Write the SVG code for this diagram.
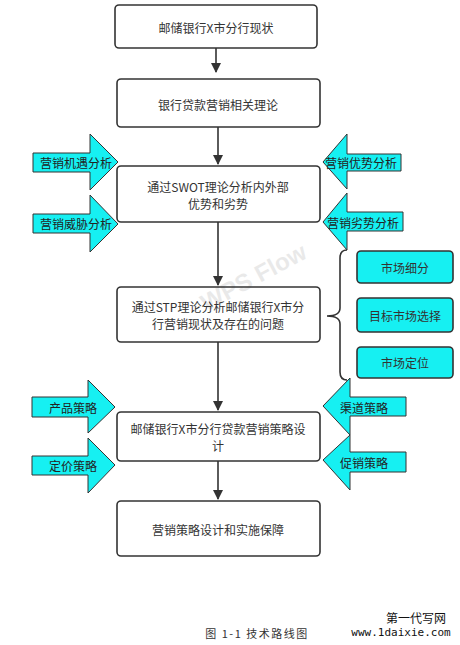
<svg xmlns="http://www.w3.org/2000/svg" width="460" height="645" viewBox="0 0 460 645">
<defs>
<style>
.box{fill:#fff;stroke:#333;stroke-width:1.6}
.cbox{fill:#16F0F2;stroke:#333;stroke-width:1.6}
.arr{fill:#16F0F2;stroke:#333;stroke-width:1}
.t{font-family:"Noto Sans CJK SC","Liberation Sans",sans-serif;font-size:12px;fill:#333;text-anchor:middle;dominant-baseline:central}
.ta{font-family:"Noto Sans CJK SC","Liberation Sans",sans-serif;font-size:12px;fill:#222;text-anchor:middle;dominant-baseline:central}
.line{stroke:#333;stroke-width:1.6;fill:none}
</style>
<marker id="ah" markerWidth="10" markerHeight="12" refX="9" refY="5" orient="auto" markerUnits="userSpaceOnUse">
<path d="M0,0 L10,5 L0,10 Z" fill="#333"/>
</marker>
</defs>
<rect width="460" height="645" fill="#fff"/>
<g id="connectors">
<line class="line" x1="216" y1="48" x2="216" y2="72" marker-end="url(#ah)"/>
<line class="line" x1="218" y1="127" x2="218" y2="164" marker-end="url(#ah)"/>
<line class="line" x1="218" y1="222" x2="218" y2="285" marker-end="url(#ah)"/>
<line class="line" x1="218" y1="342" x2="218" y2="410" marker-end="url(#ah)"/>
<line class="line" x1="218" y1="461" x2="218" y2="499" marker-end="url(#ah)"/>
<path class="line" d="M347,250 Q340,250 340,258 L340,308 Q340,316 327,316 Q340,316 340,324 L340,372 Q340,380 347,380"/>
</g>
<g id="n1"><rect class="box" x="115" y="5" width="202" height="43" rx="4"/><text class="t" x="216" y="27">邮储银行X市分行现状</text></g>
<g id="n2"><rect class="box" x="117" y="79" width="203" height="48" rx="4"/><text class="t" x="218" y="104">银行贷款营销相关理论</text></g>
<g id="n3"><rect class="box" x="117" y="166" width="203" height="56" rx="4"/><text class="t" x="218" y="186.5">通过SWOT理论分析内外部</text><text class="t" x="218" y="203.5">优势和劣势</text></g>
<g id="n4"><rect class="box" x="117" y="287" width="203" height="55" rx="4"/><text class="t" x="218" y="306.5">通过STP理论分析邮储银行X市分</text><text class="t" x="218" y="323.5">行营销现状及存在的问题</text></g>
<g id="n5"><rect class="box" x="117" y="412" width="203" height="49" rx="4"/><text class="t" x="218" y="428.5">邮储银行X市分行贷款营销策略设</text><text class="t" x="218" y="445.5">计</text></g>
<g id="n6"><rect class="box" x="117" y="501" width="203" height="55" rx="4"/><text class="t" x="218" y="529">营销策略设计和实施保障</text></g>
<g id="s1"><rect class="cbox" x="357" y="251" width="96" height="32" rx="4"/><text class="t" x="405" y="267">市场细分</text></g>
<g id="s2"><rect class="cbox" x="357" y="298" width="96" height="34" rx="4"/><text class="t" x="405" y="315">目标市场选择</text></g>
<g id="s3"><rect class="cbox" x="357" y="347" width="96" height="31" rx="4"/><text class="t" x="405" y="362">市场定位</text></g>
<g id="a1"><polygon class="arr" points="33,153 90,153 90,134 118,162 90,190 90,172 33,172"/><text class="ta" x="76" y="162">营销机遇分析</text></g>
<g id="a2"><polygon class="arr" points="33,214 90,214 90,195 118,224 90,252 90,233 33,233"/><text class="ta" x="76" y="223">营销威胁分析</text></g>
<g id="a3"><polygon class="arr" points="401,154 347,154 347,134 323,162 347,189 347,171 401,171"/><text class="ta" x="361" y="162">营销优势分析</text></g>
<g id="a4"><polygon class="arr" points="403,212 347,212 347,193 323,222 347,250 347,231 403,231"/><text class="ta" x="363" y="222">营销劣势分析</text></g>
<g id="a5"><polygon class="arr" points="32,397 88,397 88,380 115,407 88,433 88,417 32,417"/><text class="ta" x="73" y="407">产品策略</text></g>
<g id="a6"><polygon class="arr" points="32,456 88,456 88,438 115,465 88,493 88,475 32,475"/><text class="ta" x="73" y="465">定价策略</text></g>
<g id="a7"><polygon class="arr" points="406,397 350,397 350,378 323,406 350,435 350,416 406,416"/><text class="ta" x="364" y="407">渠道策略</text></g>
<g id="a8"><polygon class="arr" points="406,452 350,452 350,435 323,460 350,490 350,472 406,472"/><text class="ta" x="364" y="462">促销策略</text></g>
<g id="watermark" opacity="0.1" transform="rotate(-28 255 280)">
<text x="255" y="285" font-family="Liberation Sans,sans-serif" font-size="24" font-weight="bold" fill="#333" text-anchor="middle">WPS Flow</text>
</g>
<g id="caption">
<text x="257" y="633" font-family="Noto Sans CJK SC,sans-serif" font-size="11" letter-spacing="1.5" fill="#333" text-anchor="middle" dominant-baseline="central">图 1-1  技术路线图</text>
<text x="416" y="617" font-family="Noto Sans CJK SC,sans-serif" font-size="12" fill="#111" text-anchor="middle" dominant-baseline="central">第一代写网</text>
<text x="401" y="632" font-family="DejaVu Sans Mono,monospace" font-size="11" fill="#111" text-anchor="middle" dominant-baseline="central">www.1daixie.com</text>
</g>
</svg>
